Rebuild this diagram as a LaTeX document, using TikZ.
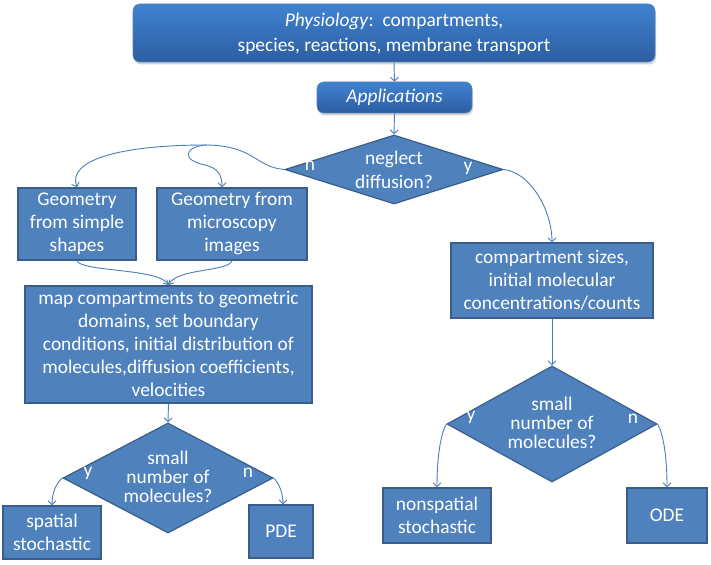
\documentclass[tikz,border=0pt]{standalone}
\usepackage{fontspec}
\setmainfont{Carlito}
\usetikzlibrary{shapes.geometric,arrows.meta,shadows,calc}
\definecolor{boxfill}{RGB}{79,129,189}
\definecolor{boxline}{RGB}{56,93,138}
\definecolor{conn}{RGB}{74,126,187}
\definecolor{gtop}{RGB}{64,130,208}
\definecolor{gbot}{RGB}{44,94,162}
\tikzset{
  rbox/.style={rectangle, fill=boxfill, draw=boxline, line width=1.2pt, inner sep=0pt},
  gbox/.style={rectangle, rounded corners=7pt, top color=gtop, bottom color=gbot, draw=gbot!80!white, line width=0.6pt,
     drop shadow={opacity=0.35, shadow xshift=1pt, shadow yshift=-2.5pt}, inner sep=0pt},
  dia/.style={diamond, fill=boxfill, draw=boxline, line width=1.2pt, inner sep=0pt},
  txt/.style={text=white, font=\fontsize{19.4}{23}\selectfont, align=center},
  dtxt/.style={text=white, font=\fontsize{19.4}{19}\selectfont, align=center},
  lab/.style={text=white, font=\fontsize{19.4}{20}\selectfont},
  cn/.style={draw=conn, line width=0.9pt, -{Straight Barb[length=4pt,width=8pt]}},
}
\begin{document}
\begin{tikzpicture}[x=1pt,y=-1pt]
\useasboundingbox (0,0) rectangle (711,564);
% top boxes
\node[gbox, minimum width=522pt, minimum height=58pt] (top) at (394,33) {};
\node[txt, font=\fontsize{19.4}{25}\selectfont] (topt) at (394,34) {\textit{Physiology}:\ \ compartments,\\species, reactions, membrane transport};
\node[gbox, minimum width=155pt, minimum height=31pt] (app) at (394.5,97.5) {};
\node[txt] (appt) at (394.5,97.5) {\textit{Applications}};
% first decision
\node[dia, minimum width=218pt, minimum height=69pt] (d1) at (394,169.5) {};
\node[dtxt, font=\fontsize{19.4}{24}\selectfont] (d1t) at (394,170) {neglect\\diffusion?};
\node[lab] (d1n) at (310,166) {n};
\node[lab] (d1y) at (468,168) {y};
% left branch
\node[rbox, minimum width=118pt, minimum height=72pt] (g1) at (77,224) {};
\node[txt] (g1t) at (77,224) {Geometry\\from simple\\shapes};
\node[rbox, minimum width=150pt, minimum height=72pt] (g2) at (232,224) {};
\node[txt] (g2t) at (232,224) {Geometry from\\microscopy\\images};
\node[rbox, minimum width=287pt, minimum height=117pt] (map) at (168.5,344.5) {};
\node[txt] (mapt) at (168.5,344) {map compartments to geometric\\domains, set boundary\\conditions, initial distribution of\\molecules,diffusion coefficients,\\velocities};
\node[dia, minimum width=210pt, minimum height=110pt] (d2) at (168,478) {};
\node[dtxt] (d2t) at (168,477) {small\\number of\\molecules?};
\node[lab] (d2y) at (88,473) {y};
\node[lab] (d2n) at (248,473) {n};
\node[rbox, minimum width=98pt, minimum height=53pt] (ss) at (52,532.5) {};
\node[txt] (sst) at (52,532.5) {spatial\\stochastic};
\node[rbox, minimum width=64pt, minimum height=53pt] (pde) at (281,531.5) {};
\node[txt] (pdet) at (281,531.5) {PDE};
% right branch
\node[rbox, minimum width=202pt, minimum height=75pt] (cs) at (552,280.5) {};
\node[txt] (cst) at (552,280.5) {compartment sizes,\\initial molecular\\concentrations/counts};
\node[dia, minimum width=210pt, minimum height=116pt] (d3) at (552,424) {};
\node[dtxt] (d3t) at (552,423) {small\\number of\\molecules?};
\node[lab] (d3y) at (471,417) {y};
\node[lab] (d3n) at (633,419) {n};
\node[rbox, minimum width=108pt, minimum height=55pt] (ns) at (437,515.5) {};
\node[txt] (nst) at (437,515.5) {nonspatial\\stochastic};
\node[rbox, minimum width=80pt, minimum height=55pt] (ode) at (667,515.5) {};
\node[txt] (odet) at (667,515.5) {ODE};
% connectors
\coordinate (split) at (207,145);
\draw[cn] (top.south) -- (app.north);
\draw[cn] (app.south) -- (d1.north);
\draw[cn] (d1.west) .. controls (255,167) and (255,146) .. (split) .. controls (120,145) and (67,160) .. (g1.north);
\draw[cn] (split) .. controls (185,146) and (180,160) .. (205,165) .. controls (218,168) and (222,175) .. ([xshift=-10pt]g2.north);
\draw[cn] (g1.south) .. controls (80,272) and (160,268) .. (map.north);
\draw[cn] (g2.south) .. controls (229,272) and (176,268) .. (map.north);
\draw[cn] (map.south) -- (d2.north);
\draw[cn] (d2.west) .. controls (55,484) and (52,495) .. (ss.north);
\draw[cn] (d2.east) .. controls (280,484) and (283,495) .. ([xshift=2pt]pde.north);
\draw[cn] (d1.east) .. controls (530,172) and (552,210) .. (cs.north);
\draw[cn] (cs.south) -- (d3.north);
\draw[cn] (d3.west) .. controls (440,435) and (437,460) .. (ns.north);
\draw[cn] (d3.east) .. controls (664,435) and (667,460) .. (ode.north);
\end{tikzpicture}
\end{document}
